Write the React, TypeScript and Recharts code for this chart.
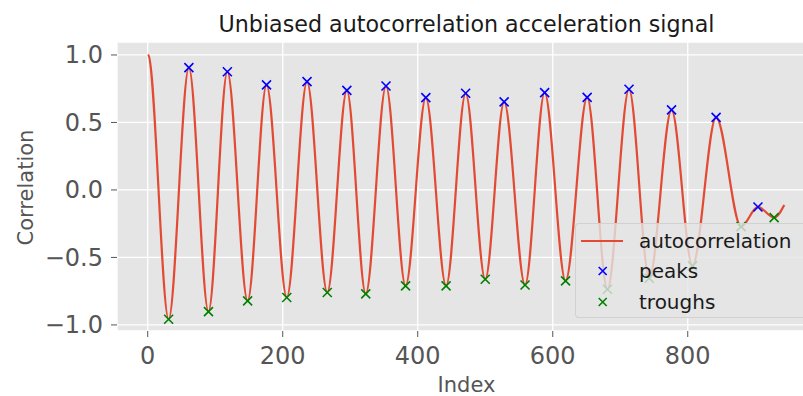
import { ComposedChart, Line, Scatter, XAxis, YAxis, CartesianGrid, Legend } from 'recharts'

// peaks / troughs found on the autocorrelation (index, value)
const peakIndex = [61, 118, 176, 236, 295, 353, 412, 471, 528, 588, 651, 713, 776, 842, 904]
const peakValue = [0.906, 0.876, 0.778, 0.802, 0.738, 0.77, 0.684, 0.716, 0.652, 0.721, 0.686, 0.746, 0.593, 0.538, -0.126]

const troughIndex = [31, 90, 148, 206, 266, 323, 382, 442, 500, 559, 619, 681, 743, 807, 879, 928]
const troughValue = [-0.958, -0.901, -0.822, -0.797, -0.76, -0.77, -0.711, -0.711, -0.662, -0.704, -0.674, -0.736, -0.654, -0.563, -0.272, -0.205]

// start (lag 0) and end of the curve
const headIndex = [0, 1]
const headValue = [1.0, 0.998]
const tailIndex = [943]
const tailValue = [-0.111]

const xTicks = [0, 200, 400, 600, 800]
const yTicks = [-1, -0.5, 0, 0.5, 1]

const FONT = '"DejaVu Sans", sans-serif'
const RED = '#E24A33'
const BLUE = '#0000FF'
const GREEN = '#008000'

const toPoints = (xs: number[], ys: number[]) => xs.map((x, i) => ({ x, y: ys[i] }))

const peaks = toPoints(peakIndex, peakValue)
const troughs = toPoints(troughIndex, troughValue)
const curve = [
  ...toPoints(headIndex, headValue),
  ...peaks,
  ...troughs,
  ...toPoints(tailIndex, tailValue),
].sort((a, b) => a.x - b.x)

const fmt = (v: number) => (v < 0 ? '\u2212' : '') + Math.abs(v).toFixed(1)

function XMark({ cx, cy, color, r = 4.5 }: any) {
  if (cx == null || cy == null) return null
  return (
    <path
      d={`M${cx - r},${cy - r}L${cx + r},${cy + r}M${cx - r},${cy + r}L${cx + r},${cy - r}`}
      stroke={color}
      strokeWidth={1.6}
      fill="none"
    />
  )
}

function LegendBox({ payload }: any) {
  return (
    <div
      style={{
        background: 'rgba(229,229,229,0.8)',
        border: '1px solid rgba(204,204,204,0.8)',
        borderRadius: 4,
        height: 95,
        paddingTop: 2,
        boxSizing: 'border-box',
        fontFamily: FONT,
        fontSize: 20,
        color: '#1a1a1a',
      }}
    >
      {(payload || []).map((item: any) => (
        <div key={item.value} style={{ display: 'flex', alignItems: 'center', height: 30.3 }}>
          <svg width={63} height={20} style={{ flex: 'none' }}>
            {item.type === 'line' ? (
              <line x1={5} x2={47} y1={10} y2={10} stroke={item.color} strokeWidth={2.2} />
            ) : (
              <XMark cx={26.7} cy={10} color={item.color} r={4} />
            )}
          </svg>
          <span style={{ lineHeight: '20px' }}>{item.value}</span>
        </div>
      ))}
    </div>
  )
}

export default function App() {
  return (
    <div
      style={{
        position: 'fixed',
        left: 0,
        top: 0,
        width: 803,
        height: 396,
        overflow: 'hidden',
        background: '#fff',
        fontFamily: FONT,
      }}
    >
      <div
        style={{
          position: 'absolute',
          left: 117,
          width: 699,
          top: 13,
          textAlign: 'center',
          fontSize: 22.2,
          lineHeight: '22px',
          color: '#1a1a1a',
          whiteSpace: 'nowrap',
        }}
      >
        Unbiased autocorrelation acceleration signal
      </div>
      <ComposedChart width={830} height={396} margin={{ top: 42, right: 14, bottom: 0, left: 0 }}>
        <CartesianGrid stroke="#FFFFFF" strokeWidth={1.3} fill="#E5E5E5" fillOpacity={1} />
        <XAxis
          dataKey="x"
          type="number"
          domain={[-45.5, 990]}
          ticks={xTicks}
          allowDataOverflow
          height={65}
          axisLine={false}
          tickSize={6}
          tickMargin={10}
          tickLine={{ stroke: '#555555' }}
          tick={{ fontSize: 24, fill: '#555555', fontFamily: FONT }}
          label={{ value: 'Index', position: 'insideBottom', offset: 4, fontSize: 21, fill: '#555555', fontFamily: FONT }}
        />
        <YAxis
          type="number"
          domain={[-1.045, 1.096]}
          ticks={yTicks}
          allowDataOverflow
          width={117}
          axisLine={false}
          tickSize={6}
          tickMargin={8}
          tickLine={{ stroke: '#555555' }}
          tickFormatter={fmt}
          tick={{ fontSize: 24, fill: '#555555', fontFamily: FONT }}
          label={{
            content: (p: any) => {
              const vb = p.viewBox || { x: 0, y: 42, width: 117, height: 289 }
              const cy = vb.y + vb.height / 2 + 1
              return (
                <text
                  transform={`translate(33, ${cy}) rotate(-90)`}
                  textAnchor="middle"
                  fontSize={21}
                  fill="#555555"
                  fontFamily={FONT}
                >
                  Correlation
                </text>
              )
            },
          }}
        />
        <Line
          data={curve}
          dataKey="y"
          name="autocorrelation"
          type="monotone"
          stroke={RED}
          strokeWidth={2.2}
          dot={false}
          legendType="line"
          isAnimationActive={false}
        />
        <Scatter
          data={peaks}
          dataKey="y"
          name="peaks"
          fill={BLUE}
          legendType="cross"
          shape={(p: any) => <XMark {...p} color={BLUE} />}
          isAnimationActive={false}
        />
        <Scatter
          data={troughs}
          dataKey="y"
          name="troughs"
          fill={GREEN}
          legendType="cross"
          shape={(p: any) => <XMark {...p} color={GREEN} />}
          isAnimationActive={false}
        />
        <Legend
          layout="vertical"
          align="center"
          verticalAlign="middle"
          content={<LegendBox />}
          wrapperStyle={{ left: 575, top: 223, width: 260, right: 'auto', bottom: 'auto' }}
        />
      </ComposedChart>
    </div>
  )
}
